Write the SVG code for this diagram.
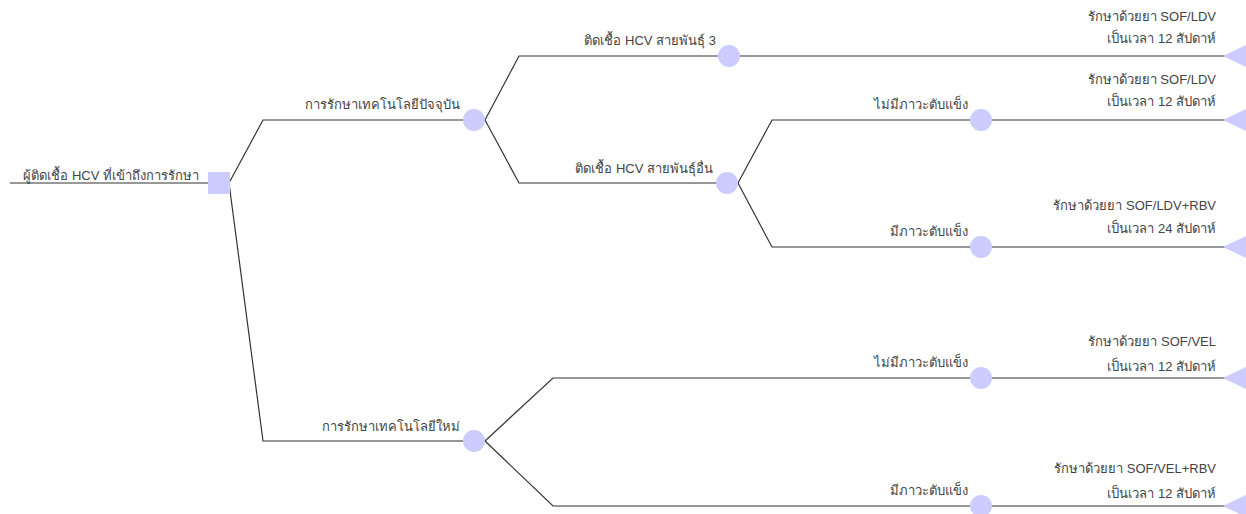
<svg xmlns="http://www.w3.org/2000/svg" width="1246" height="514" viewBox="0 0 1246 514">
<style>
.c{fill:none;stroke:#333;stroke-width:1.2}
.n{fill:#ccccff;stroke:none}
text{font-family:"Liberation Sans","Noto Sans",sans-serif;font-size:13px;fill:#444;text-anchor:end}
</style>
<rect width="1246" height="514" fill="#fff"/>
<g id="connectors">
<path class="c" d="M10,183 H210"/>
<path class="c" d="M229,183 L263,120 H465"/>
<path class="c" d="M229,183 L263,441 H465"/>
<path class="c" d="M485,120 L519,56 H720"/>
<path class="c" d="M485,120 L519,183 H718"/>
<path class="c" d="M738,183 L772,120 H972"/>
<path class="c" d="M738,183 L772,247 H972"/>
<path class="c" d="M485,441 L553,378 H972"/>
<path class="c" d="M485,441 L553,506 H972"/>
<path class="c" d="M738,56 H1225"/>
<path class="c" d="M990,120 H1225"/>
<path class="c" d="M990,247 H1225"/>
<path class="c" d="M990,378 H1225"/>
<path class="c" d="M990,506 H1225"/>
</g>
<g id="root"><rect class="n" x="208" y="172" width="22" height="22"/><text x="199" y="180">ผู้ติดเชื้อ HCV ที่เข้าถึงการรักษา</text></g>
<g id="current"><circle class="n" cx="474" cy="120" r="11"/><text x="460" y="109">การรักษาเทคโนโลยีปัจจุบัน</text></g>
<g id="new"><circle class="n" cx="474" cy="441" r="11"/><text x="460" y="431">การรักษาเทคโนโลยีใหม่</text></g>
<g id="gt3"><circle class="n" cx="729" cy="56" r="11"/><text x="716" y="45">ติดเชื้อ HCV สายพันธุ์ 3</text></g>
<g id="gtother"><circle class="n" cx="727" cy="183" r="11"/><text x="713" y="173">ติดเชื้อ HCV สายพันธุ์อื่น</text></g>
<g id="c1nocirr"><circle class="n" cx="981" cy="120" r="11"/><text x="968" y="109">ไม่มีภาวะตับแข็ง</text></g>
<g id="c1cirr"><circle class="n" cx="981" cy="247" r="11"/><text x="968" y="236">มีภาวะตับแข็ง</text></g>
<g id="c2nocirr"><circle class="n" cx="981" cy="378" r="11"/><text x="968" y="367">ไม่มีภาวะตับแข็ง</text></g>
<g id="c2cirr"><circle class="n" cx="981" cy="506" r="11"/><text x="968" y="495">มีภาวะตับแข็ง</text></g>
<g id="leaf1"><polygon class="n" points="1223,56 1246,45 1246,67"/><text x="1216" y="21">รักษาด้วยยา SOF/LDV</text><text x="1216" y="43">เป็นเวลา 12 สัปดาห์</text></g>
<g id="leaf2"><polygon class="n" points="1223,120 1246,109 1246,131"/><text x="1216" y="84">รักษาด้วยยา SOF/LDV</text><text x="1216" y="106">เป็นเวลา 12 สัปดาห์</text></g>
<g id="leaf3"><polygon class="n" points="1223,247 1246,236 1246,258"/><text x="1216" y="210">รักษาด้วยยา SOF/LDV+RBV</text><text x="1216" y="233">เป็นเวลา 24 สัปดาห์</text></g>
<g id="leaf4"><polygon class="n" points="1223,378 1246,367 1246,389"/><text x="1216" y="346">รักษาด้วยยา SOF/VEL</text><text x="1216" y="371">เป็นเวลา 12 สัปดาห์</text></g>
<g id="leaf5"><polygon class="n" points="1223,506 1246,495 1246,517"/><text x="1216" y="473">รักษาด้วยยา SOF/VEL+RBV</text><text x="1216" y="498">เป็นเวลา 12 สัปดาห์</text></g>
</svg>
